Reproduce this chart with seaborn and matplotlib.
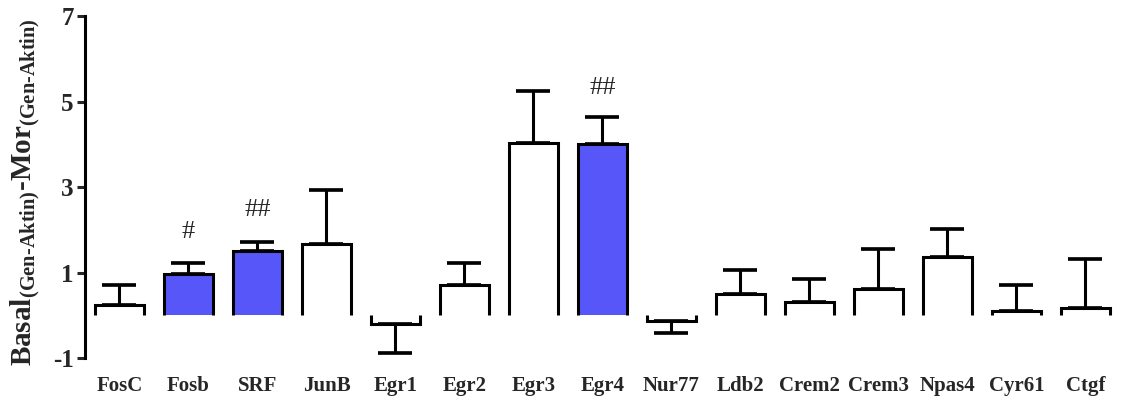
import numpy as np
import seaborn as sns
from matplotlib import pyplot as plt

genes = ["FosC", "Fosb", "SRF", "JunB", "Egr1", "Egr2", "Egr3", "Egr4", "Nur77",
         "Ldb2", "Crem2", "Crem3", "Npas4", "Cyr61", "Ctgf"]
means = [0.23, 0.97, 1.50, 1.66, -0.21, 0.70, 4.04, 4.02, -0.13,
         0.51, 0.32, 0.62, 1.37, 0.10, 0.16]
sems = [0.49, 0.26, 0.22, 1.27, 0.68, 0.53, 1.21, 0.63, 0.29,
        0.55, 0.54, 0.94, 0.66, 0.60, 1.15]
highlight = ["Fosb", "SRF", "Egr4"]
marks = {"Fosb": ("#", 1.94), "SRF": ("##", 2.46), "Egr4": ("##", 5.33)}
y_ticks = [-1, 1, 3, 5, 7]

blue = "#5757F9"
lw = 2.2
width = 0.7

sns.set_style("white")
plt.rcParams["font.family"] = ["Liberation Serif", "DejaVu Serif"]
plt.rcParams["mathtext.fontset"] = "custom"
plt.rcParams["mathtext.rm"] = "Liberation Serif:bold"
plt.rcParams["mathtext.bf"] = "Liberation Serif:bold"

fig = plt.figure(figsize=(11.21, 4.05), dpi=100)
ax = fig.add_axes([0.0758, 0.116, 0.9232, 0.844])

colors = [blue if g in highlight else "white" for g in genes]
sns.barplot(x=genes, y=means, hue=genes, palette=colors, legend=False,
            width=width, linewidth=0, saturation=1, ax=ax, zorder=2)

# open outlines (no edge on the baseline) and one-sided error bars
for i, (m, s) in enumerate(zip(means, sems)):
    xs = [i - width / 2, i - width / 2, i + width / 2, i + width / 2]
    ax.plot(xs, [0, m, m, 0], color="black", lw=lw, zorder=3,
            solid_capstyle="butt", solid_joinstyle="miter")
    yerr = [[0], [s]] if m >= 0 else [[s], [0]]
    ax.errorbar(i, m, yerr=yerr, fmt="none", ecolor="black", elinewidth=lw,
                capsize=12, capthick=lw * 1.2, zorder=3)

for g, (txt, y) in marks.items():
    ax.text(genes.index(g), y, txt, ha="center", va="center", fontsize=19)

ax.set_xlim(-0.5, len(genes) - 0.5)
ax.set_ylim(-1, 7)
ax.set_yticks(y_ticks)
ax.set_yticklabels([str(t) for t in y_ticks], fontsize=18, fontweight="bold")
for lab in ax.get_xticklabels():
    lab.set_fontsize(15)
    lab.set_fontweight("bold")
ax.tick_params(axis="x", length=0, pad=13)
ax.tick_params(axis="y", length=6, width=lw, direction="out", pad=2, left=True)

for side in ["top", "right", "bottom"]:
    ax.spines[side].set_visible(False)
ax.spines["left"].set_linewidth(lw)
ax.spines["left"].set_color("black")
ax.spines["left"].set_bounds(-1, 7)

ax.set_ylabel(r"$\mathbf{Basal_{(Gen\text{-}Aktin)}\text{-}Mor_{(Gen\text{-}Aktin)}}$",
              fontsize=21, labelpad=2)
ax.yaxis.set_label_coords(-0.042, 0.485)

fig.savefig("out.png", dpi=100)
